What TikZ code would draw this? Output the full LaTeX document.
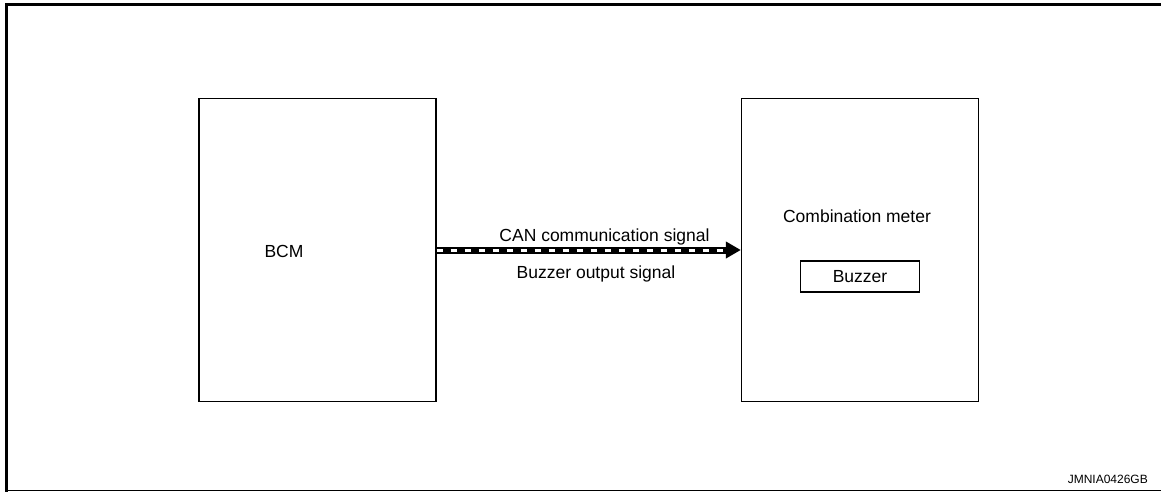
\documentclass[tikz,border=0pt]{standalone}
\usepackage{fontspec}
\setmainfont{Liberation Sans}
\usetikzlibrary{arrows.meta}
\begin{document}
\begin{tikzpicture}[x=1pt,y=-1pt,
  blockbox/.style={draw=black,line width=1.3pt,minimum width=237pt,minimum height=303pt,inner sep=0pt},
  smallbox/.style={draw=black,line width=1.2pt,minimum width=119pt,minimum height=31pt,inner sep=0pt,font=\fontsize{17.5}{20}\selectfont},
  lbl/.style={font=\fontsize{17.5}{20}\selectfont,anchor=base,inner sep=0pt}]
\useasboundingbox (0,0) rectangle (1161,492);
% frame
\draw[line width=3pt] (6.5,492) -- (6.5,5) -- (1161,5);
\draw[line width=1.5pt] (5,490.5) -- (1161,490.5);
% blocks
\node[blockbox] (bcm) at (317.5,250) {};
\node[blockbox] (meter) at (860,250) {};
\node[smallbox] (buzzer) at (860,276.5) {Buzzer};
\node[lbl] (bcmlbl) at (284,257) {BCM};
\node[lbl] (meterlbl) at (857,222) {Combination meter};
% connector
\draw[line width=7pt,-{Triangle[length=15pt,width=16pt]}] (bcm.east) -- (meter.west);
\draw[white,line width=3pt,dash pattern=on 6pt off 8pt,shorten >=16pt] (bcm.east) -- (meter.west);
\node[lbl] (can) at (604.5,241.5) {CAN communication signal};
\node[lbl] (bos) at (596,278) {Buzzer output signal};
\node[font=\fontsize{12}{14}\selectfont,anchor=base east,inner sep=0pt] (code) at (1148,483) {JMNIA0426GB};
\end{tikzpicture}
\end{document}
